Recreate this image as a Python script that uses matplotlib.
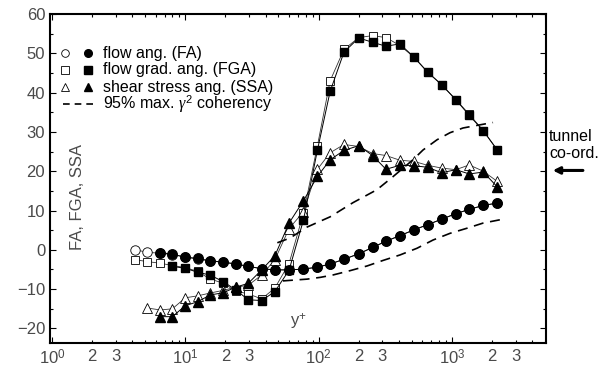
import numpy as np
import matplotlib
matplotlib.use("Agg")
import matplotlib.pyplot as plt

# 字体设置
plt.rcParams['font.family'] = ['Liberation Sans', 'DejaVu Sans']
plt.rcParams['mathtext.fontset'] = 'custom'
plt.rcParams['mathtext.rm'] = 'Liberation Sans'
plt.rcParams['mathtext.it'] = 'Liberation Serif:italic'

# 数据 (y+ 网格)
y_plus = [4.2, 5.2, 6.5, 8.0, 10, 12.4, 15.3, 19.3, 23.9, 29.7, 37.4, 47, 60, 77, 98,
          122, 155, 200, 254, 320, 407, 520, 658, 838, 1070, 1350, 1720, 2190]

# flow ang. (FA)
fa_open = [0.0, -0.6, -0.9, -1.2, -1.8, -2.3, -2.8, -3.2, -3.6, -4.2, -4.8, -5.1, -5.1, -4.9,
           -4.4, -3.6, -2.4, -1.0, 0.6, 2.2, 3.6, 5.1, 6.4, 7.8, 9.2, 10.3, 11.3, 11.9]
fa_fill = [-0.7, -1.1, -1.9, -2.2, -2.8, -3.1, -3.6, -4.2, -4.8, -5.1, -5.1, -4.9, -4.4,
           -3.6, -2.4, -1.0, 0.6, 2.2, 3.6, 5.1, 6.4, 7.8, 9.2, 10.3, 11.3, 11.9]

# flow grad. ang. (FGA)
fga_open = [-2.5, -3.0, -3.4, -4.0, -4.5, -5.5, -7.4, -8.5, -10.5, -11.2, -12.5, -9.7, -3.5,
            9.3, 26.5, 43.0, 51.0, 54.0, 54.5, 54.0, 52.0, 49.0, 45.2, 42.0, 38.2, 34.5, 30.3, 25.4]
fga_fill = [-4.2, -4.7, -5.7, -6.4, -8.1, -10.2, -12.7, -12.9, -10.6, -5.2, 7.6, 25.4, 40.3,
            50.3, 53.9, 52.8, 51.8, 52.4, 49.0, 45.2, 42.0, 38.2, 34.2, 30.3, 25.4]

# shear stress ang. (SSA)
ssa_open = [-14.8, -15.3, -15.0, -12.2, -11.7, -11.0, -10.3, -9.5, -9.0, -6.4, -2.5, 5.4, 9.7,
            20.5, 24.7, 26.8, 26.3, 24.5, 24.0, 22.8, 22.5, 21.5, 20.8, 20.4, 21.6, 20.0, 17.4]
ssa_fill = [-17.0, -17.0, -14.2, -13.2, -11.5, -10.9, -9.5, -8.5, -5.1, -1.5, 6.8, 12.5, 18.7,
            22.9, 25.3, 26.5, 24.0, 20.5, 21.5, 21.4, 21.0, 19.6, 20.4, 19.3, 19.8, 16.0]

# 95% max. gamma^2 coherency (两条虚线)
coh_hi_x = [49, 61, 82, 122, 181, 274, 361, 510, 607, 773, 968, 1212, 1622, 2034]
coh_hi_y = [1.8, 3.0, 5.8, 8.4, 12.0, 15.3, 18.6, 22.9, 25.4, 28.0, 29.8, 31.0, 31.8, 32.4]
coh_lo_x = [54, 82, 103, 128, 172, 231, 304, 408, 547, 722, 968, 1298, 1710, 2500]
coh_lo_y = [-7.9, -7.45, -7.0, -6.4, -5.3, -4.1, -2.7, -1.3, 0.4, 2.5, 4.2, 5.5, 6.8, 7.9]

fig = plt.figure(figsize=(6, 3.7), dpi=100)
ax = fig.add_axes([50 / 600, 27 / 370, 496 / 600, 329 / 370])

lc = 'black'
ms = 6.8
# 空心标记先画
ax.plot(y_plus, fa_open, '-o', color='#333', lw=0.6, ms=ms, mfc='white', mec='black', mew=0.6)
ax.plot(y_plus, fga_open, '-s', color='#333', lw=0.6, ms=ms - 0.6, mfc='white', mec='black', mew=0.6)
ax.plot(y_plus[1:], ssa_open, '-^', color='#333', lw=0.6, ms=ms, mfc='white', mec='black', mew=0.6)
# 实心标记
ax.plot(y_plus[2:], fa_fill, '-o', color=lc, lw=0.7, ms=ms, mfc='black', mec='black')
ax.plot(y_plus[3:], fga_fill, '-s', color=lc, lw=0.7, ms=ms - 0.6, mfc='black', mec='black')
ax.plot(y_plus[2:], ssa_fill, '-^', color=lc, lw=0.7, ms=ms, mfc='black', mec='black')
# 虚线
ax.plot(coh_hi_x, coh_hi_y, color='black', lw=1.2, linestyle=(0, (6, 4)))
ax.plot(coh_lo_x, coh_lo_y, color='black', lw=1.2, linestyle=(0, (6, 4)))

# 坐标轴
ax.set_xscale('log')
ax.set_xlim(0.966, 5080)
ax.set_ylim(-23.7, 60)
for s in ax.spines.values():
    s.set_linewidth(1.5)

tick_color = '#4a4a4a'
major = [1, 10, 100, 1000]
ax.set_xticks(major)
ax.set_xticklabels([r'$10^{%d}$' % i for i in range(4)])
minor = [m * d for d in major for m in range(2, 10) if m * d < 5080]
ax.set_xticks(minor, minor=True)
ax.set_xticklabels(['2' if str(int(v))[0] == '2' else ('3' if str(int(v))[0] == '3' else '')
                    for v in minor], minor=True)
ax.set_yticks(np.arange(-20, 61, 10))
ax.set_yticks(np.arange(-20, 61, 5), minor=True)
ax.tick_params(which='both', direction='in', top=True, right=True, labelsize=12,
               labelcolor=tick_color, width=0.8)
ax.tick_params(which='major', length=4)
ax.tick_params(which='minor', length=2.5)
ax.tick_params(axis='x', which='both', pad=4)

# 轴标签 (放在图内)
ax.text(0.056, 0.444, 'FA, FGA, SSA', rotation=90, transform=ax.transAxes,
        ha='center', va='center', fontsize=12, color=tick_color)
ax.text(0.5, 0.064, r'y$^{+}$', transform=ax.transAxes, ha='center', va='center',
        fontsize=12, color=tick_color)

# 图例 (手动)
rows = [0.881, 0.830, 0.778, 0.726]
labels = ['flow ang. (FA)', 'flow grad. ang. (FGA)', 'shear stress ang. (SSA)',
          r'95% max. $\gamma^2$ coherency']
for yy, mk in zip(rows[:3], ['o', 's', '^']):
    ax.plot([0.030], [yy], mk, ms=5.5, mfc='white', mec='black', mew=0.6,
            transform=ax.transAxes, clip_on=False)
    ax.plot([0.077], [yy], mk, ms=5.5, mfc='black', mec='black',
            transform=ax.transAxes, clip_on=False)
ax.plot([0.026, 0.095], [rows[3], rows[3]], color='black', lw=1.2, linestyle=(0, (4, 3)),
        transform=ax.transAxes)
for yy, lab in zip(rows, labels):
    ax.text(0.107, yy, lab, transform=ax.transAxes, va='center', fontsize=11.5)

# tunnel co-ord. 标注
ax.text(1.006, 0.602, 'tunnel\nco-ord.', transform=ax.transAxes, ha='left', va='center',
        fontsize=11.5, linespacing=1.1)
ax.annotate('', xy=(1.008, 20.2), xycoords=('axes fraction', 'data'),
            xytext=(1.08, 20.2), textcoords=('axes fraction', 'data'),
            arrowprops=dict(arrowstyle='-|>', lw=2.2, color='black', mutation_scale=10))

fig.savefig('out.png', dpi=100)
